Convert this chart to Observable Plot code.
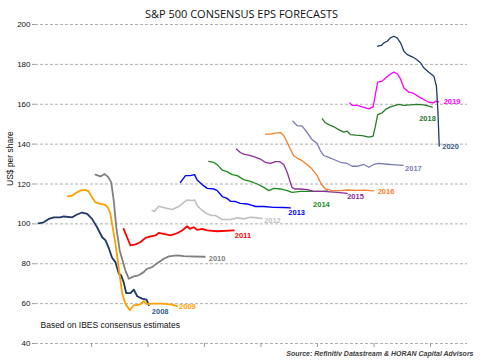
<!DOCTYPE html>
<html><head><meta charset="utf-8">
<script src="https://cdn.jsdelivr.net/npm/d3@7"></script>
<script src="https://cdn.jsdelivr.net/npm/@observablehq/plot@0.6"></script>
<style>body{margin:0;background:#fff}</style>
</head><body><div id="chart"></div>
<script>
// Forecast year of each series
const seriesNames = ["2008","2009","2010","2011","2012","2013","2014","2015","2016","2017","2018","2019","2020"];

// [date as decimal year, consensus EPS in US$]
const s2008 = [[2006.13,100.3],[2006.31,100.8],[2006.49,102.5],[2006.67,103.3],[2006.90,103.3],[2007.02,103.7],[2007.32,103.3],[2007.49,104.7],[2007.67,105.7],[2007.85,105],[2008.02,102.5],[2008.20,98.3],[2008.38,93.3],[2008.50,91.7],[2008.61,88],[2008.73,83],[2008.85,80.8],[2008.97,75],[2009.05,74.2],[2009.14,70.8],[2009.23,65.3],[2009.38,65.3],[2009.50,67],[2009.62,63.7],[2009.79,62.5],[2009.95,62],[2010.03,59.2]];
const s2009 = [[2007.16,113.8],[2007.32,114.2],[2007.49,115.8],[2007.61,116.7],[2007.79,117],[2007.90,116.3],[2008.02,113.3],[2008.14,110.8],[2008.32,110],[2008.50,109.5],[2008.61,107.5],[2008.67,105],[2008.73,100],[2008.85,90],[2008.93,81.7],[2009.00,74.2],[2009.09,65],[2009.20,60],[2009.36,56.7],[2009.50,59.2],[2009.62,59.2],[2009.73,59.7],[2009.85,61.3],[2009.97,59.7],[2010.15,60],[2010.45,60],[2010.68,59.8],[2010.85,59.5],[2011.03,58.7]];
const s2010 = [[2008.14,124.7],[2008.32,123.8],[2008.46,125],[2008.58,123.7],[2008.70,120.8],[2008.79,111.7],[2008.88,98.3],[2009.00,86.7],[2009.20,76.7],[2009.32,72.5],[2009.50,73.7],[2009.67,74.2],[2009.85,75.8],[2009.97,77.5],[2010.15,78.3],[2010.27,79.7],[2010.38,80.8],[2010.56,82.5],[2010.74,83.7],[2011.03,84.2],[2011.27,83.8],[2011.44,83.7],[2012.01,83.5]];
const s2011 = [[2009.14,97.5],[2009.26,93.3],[2009.38,89.2],[2009.56,89.7],[2009.73,90.8],[2009.91,93],[2010.09,93.7],[2010.27,94.2],[2010.38,95.5],[2010.56,95],[2010.80,94.2],[2011.03,95.3],[2011.21,96.7],[2011.39,98.8],[2011.48,97.5],[2011.62,98.3],[2011.74,97],[2011.92,97.5],[2012.10,96.7],[2012.45,96.3],[2013.04,96.7]];
const s2012 = [[2010.15,106.7],[2010.23,106.3],[2010.38,108.8],[2010.62,108],[2010.86,107.2],[2011.09,108.7],[2011.27,110.8],[2011.39,112],[2011.56,111.7],[2011.65,112],[2011.74,109.2],[2011.92,106.7],[2012.10,105],[2012.27,104.2],[2012.39,104.2],[2012.63,102.2],[2012.92,102.2],[2013.16,103],[2013.39,102.5],[2013.63,103.3],[2013.87,103],[2014.04,102.7]];
const s2013 = [[2011.15,120.8],[2011.33,124.2],[2011.50,124.2],[2011.65,124.7],[2011.74,122],[2011.92,119.7],[2012.10,117.8],[2012.33,117.5],[2012.45,116.7],[2012.63,113.7],[2012.80,112.8],[2012.92,111.3],[2013.10,111.2],[2013.27,110.3],[2013.51,110],[2013.81,108.7],[2014.10,108.7],[2014.45,108.3],[2014.81,108.2],[2015.04,108]];
const s2014 = [[2012.15,131.3],[2012.33,130.8],[2012.45,129.7],[2012.63,127],[2012.80,126.2],[2012.98,124.7],[2013.16,124.2],[2013.39,122.2],[2013.63,121.3],[2013.87,120],[2014.10,118.3],[2014.28,116.7],[2014.45,117.8],[2014.69,117.5],[2014.93,116.7],[2015.10,115.8],[2015.40,116.3],[2015.75,116.3],[2016.22,116.3],[2016.34,116.6]];
const s2015 = [[2013.13,137.5],[2013.27,135.8],[2013.39,135],[2013.57,134.5],[2013.75,133.7],[2013.98,132.5],[2014.16,130.8],[2014.34,130.3],[2014.51,131.2],[2014.67,131.2],[2014.81,129.7],[2014.93,125.8],[2015.02,121.7],[2015.10,118.3],[2015.19,117.5],[2015.40,117.5],[2015.64,117.2],[2015.87,116.3],[2016.22,116.3],[2016.70,115.8],[2017.05,115.3]];
const s2016 = [[2014.16,145],[2014.34,145],[2014.51,145.5],[2014.69,145.8],[2014.81,144.2],[2014.93,140.8],[2015.04,137.5],[2015.16,134.2],[2015.28,133],[2015.46,131.7],[2015.64,129.7],[2015.81,127.5],[2015.99,124.2],[2016.13,120],[2016.28,117.5],[2016.52,116.7],[2016.81,116.7],[2017.05,117],[2017.41,116.8],[2017.70,116.9],[2017.99,116.6]];
const s2017 = [[2015.13,151.5],[2015.28,149.3],[2015.46,149],[2015.64,145.7],[2015.81,142.3],[2015.99,140.3],[2016.11,136.5],[2016.22,134.3],[2016.40,133.4],[2016.58,132.3],[2016.81,130.9],[2017.05,130.3],[2017.23,128.9],[2017.41,128.9],[2017.64,129.8],[2017.82,128.4],[2017.99,129.8],[2018.17,130.3],[2018.47,129.9],[2018.76,129.6],[2019.03,129.3]];
const s2018 = [[2016.17,152.7],[2016.28,150.7],[2016.40,149.8],[2016.58,148.7],[2016.75,147.3],[2016.93,146],[2017.05,146.5],[2017.17,144.8],[2017.35,144.5],[2017.58,144.3],[2017.82,143.5],[2017.97,144],[2018.05,149],[2018.13,154.8],[2018.29,155.7],[2018.41,157.4],[2018.58,158.7],[2018.76,159.4],[2018.88,159.9],[2019.06,159.4],[2019.29,159.7],[2019.53,159.9],[2019.76,159.7],[2019.94,159],[2020.06,158.5]];
const s2019 = [[2017.14,160.7],[2017.23,159.4],[2017.41,159.4],[2017.58,158.7],[2017.82,157.7],[2017.97,158.7],[2018.05,164.9],[2018.13,171.1],[2018.29,171.6],[2018.41,173.2],[2018.56,174.9],[2018.70,176.1],[2018.82,175.3],[2018.94,172.7],[2019.06,168.2],[2019.23,166.1],[2019.41,165.4],[2019.59,163.7],[2019.76,162.4],[2019.94,161],[2020.10,160.7],[2020.18,161.5],[2020.29,161.2]];
const s2020 = [[2018.13,189.1],[2018.26,189.5],[2018.35,190.8],[2018.47,191.6],[2018.58,193.3],[2018.70,194.1],[2018.82,193.3],[2018.94,190.8],[2019.06,186.6],[2019.18,184.9],[2019.35,183.8],[2019.47,182.8],[2019.65,180.8],[2019.76,178.3],[2019.94,176.1],[2020.12,174.1],[2020.21,169.1],[2020.26,157.4],[2020.31,139]];

const yTicks = [40, 60, 80, 100, 120, 140, 160, 180, 200];
const xTicks = [2008, 2010, 2012, 2014, 2016, 2018, 2020];

// styles (kept apart from the data)
const seriesData = [s2008, s2009, s2010, s2011, s2012, s2013, s2014, s2015, s2016, s2017, s2018, s2019, s2020];
const lineColors  = ["#1f3864","#ffa000","#808080","#ff0000","#c0c0c0","#0000ff","#1e8c1e","#8e2c96","#f7802a","#7a7ab4","#2a7a2a","#ff00ff","#1f3c64"];
const labelColors = ["#2f5a8c","#ffa000","#808080","#ff0000","#c0c0c0","#0000ff","#1e8c1e","#8e2c96","#f7802a","#7a7ab4","#2a7a2a","#ff00ff","#3a5a80"];
const lineWidths  = [1.8,1.8,1.8,1.8,1.6,1.4,1.3,1.3,1.3,1.3,1.3,1.3,1.3];
const labelOffsets = [[3,6],[2,0],[4,2],[1,5],[2,2],[-2,5],[-14,14],[0,3],[4,1],[2,3],[-13,11],[5,0],[3,0]];

const ends = seriesNames.map((name, i) => {
  const p = seriesData[i][seriesData[i].length - 1];
  return {name, t: p[0], v: p[1], i};
});

const font = "'Liberation Sans', Arial, sans-serif";

const chart = Plot.plot({
  width: 494, height: 362,
  marginLeft: 35, marginRight: 27, marginTop: 24, marginBottom: 19,
  style: {fontFamily: font, background: "#fff", color: "#111"},
  x: {domain: [2006.02, 2021.31], label: null},
  y: {domain: [40, 200], label: null},
  marks: [
    Plot.gridY(yTicks, {stroke: "#b0b0b0", strokeOpacity: 1, strokeDasharray: "3,2"}),
    Plot.axisY(yTicks, {tickSize: 3, tickPadding: 2, fontSize: 8, stroke: "#999", fill: "#111", label: null, tickFormat: d => String(d)}),
    Plot.axisX(xTicks, {tickSize: 4, stroke: "#999", label: null, tickFormat: () => ""}),
    ...seriesData.map((s, i) => Plot.line(s, {x: d => d[0], y: d => d[1], stroke: lineColors[i], strokeWidth: lineWidths[i], curve: "linear"})),
    ...ends.map(e => Plot.text([e], {x: "t", y: "v", text: "name", dx: labelOffsets[e.i][0], dy: labelOffsets[e.i][1], textAnchor: "start", fill: labelColors[e.i], fontSize: 7.5, fontWeight: "bold"})),
    Plot.text(["S&P 500 CONSENSUS EPS FORECASTS"], {frameAnchor: "top", dx: -10, dy: -14, fontSize: 11, fill: "#111", fontFamily: "'Open Sans', sans-serif"}),
    Plot.text(["US$ per share"], {frameAnchor: "left", dx: -25, dy: 2, rotate: -90, fontSize: 8.5, fill: "#111"}),
    Plot.text(["Based on IBES consensus estimates"], {frameAnchor: "bottom-left", dx: 5, dy: -16, textAnchor: "start", fontSize: 8.5, fill: "#111"}),
    Plot.text(["Source: Refinitiv Datastream & HORAN Capital Advisors"], {frameAnchor: "bottom-right", dx: 6, dy: 12, textAnchor: "end", fontSize: 7, fontStyle: "italic", fontWeight: "bold", fill: "#404040"})
  ]
});
document.getElementById("chart").append(chart);
</script>
</body></html>
